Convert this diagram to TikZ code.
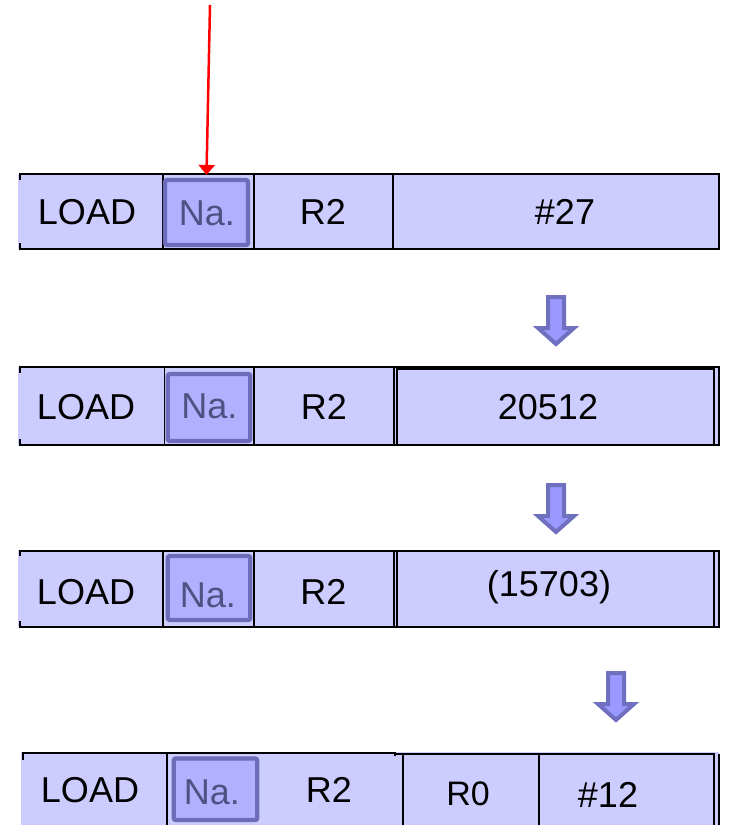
\documentclass[tikz,border=0pt]{standalone}
\usepackage{fontspec}
\setmainfont{Liberation Sans}
\usetikzlibrary{arrows.meta}
\definecolor{cellfill}{RGB}{204,204,255}
\definecolor{nafill}{RGB}{176,176,255}
\definecolor{naborder}{RGB}{108,108,186}
\definecolor{natext}{RGB}{80,80,130}
\definecolor{arrfill}{RGB}{153,153,255}
\definecolor{arrborder}{RGB}{112,112,192}
\newcommand\myblockarrow[2]{%
  \draw[blockarr] (#1-8,#2+2) -- (#1+8,#2+2) -- (#1+8,#2+33) -- (#1+18,#2+33)
    -- (#1,#2+49) -- (#1-18,#2+33) -- (#1-8,#2+33) -- cycle;}
\begin{document}
\begin{tikzpicture}[x=1pt,y=-1pt,
  frame/.style={black,line width=2pt},
  thinframe/.style={black,line width=1.2pt},
  txt/.style={inner sep=0pt,font=\fontsize{36}{40}\selectfont,text height=25.8pt,text depth=0pt},
  smalltxt/.style={inner sep=0pt,font=\fontsize{34}{38}\selectfont,text height=24.3pt,text depth=0pt},
  natxt/.style={txt,text=natext},
  nabox/.style={draw=naborder,fill=nafill,line width=4.2pt,rounded corners=2pt,inner sep=0pt},
  blockarr/.style={draw=arrborder,fill=arrfill,line width=4pt,line join=miter},
  redarr/.style={red,line width=2.5pt,-{Triangle[width=16pt,length=10pt]}}]
\useasboundingbox (0,0) rectangle (731,825);

% ---------- Row 1 ----------
\fill[cellfill] (18,174) rectangle (719,249);
\draw[frame] (20,180) -- (20,174) -- (719,174) -- (719,249) -- (20,249) -- (20,243);
\draw[frame] (162.5,174) -- (162.5,249);
\draw[frame] (253.5,174) -- (253.5,249);
\draw[frame] (393,174) -- (393,249);
\node[nabox,minimum width=83pt,minimum height=65pt] (na1) at (206.5,212.5) {};
\node[txt] (load1) at (87,212) {LOAD};
\node[natxt] (nat1) at (207,212.5) {Na.};
\node[txt] (r21) at (323,212) {R2};
\node[txt] (v1) at (565,212) {\#27};

% ---------- Row 2 ----------
\fill[cellfill] (18,367) rectangle (719,445);
\draw[frame] (20,373) -- (20,367) -- (719,367) -- (719,445) -- (20,445) -- (20,439);
\draw[thinframe] (164.5,367) -- (164.5,445);
\draw[frame] (254,367) -- (254,445);
\draw[thinframe] (394,367) -- (394,445);
\draw[frame] (397,368) -- (397,445);
\draw[frame] (397,368.5) -- (714,368.5);
\draw[frame] (714,367) -- (714,445);
\node[nabox,minimum width=82.5pt,minimum height=67pt] (na2) at (209,407.5) {};
\node[txt] (load2) at (86,407) {LOAD};
\node[natxt] (nat2) at (209.5,406) {Na.};
\node[txt] (r22) at (324,407) {R2};
\node[txt] (v2) at (548,407) {20512};

% ---------- Row 3 ----------
\fill[cellfill] (18,550) rectangle (719,627);
\draw[frame] (20,556) -- (20,550.5) -- (719,550.5) -- (719,627) -- (20,627) -- (20,621);
\draw[frame] (163,550) -- (163,627);
\draw[frame] (254,550) -- (254,627);
\draw[thinframe] (394,550) -- (394,627);
\draw[frame] (397,551) -- (397,627);
\draw[frame] (714,550) -- (714,627);
\node[nabox,minimum width=82.5pt,minimum height=64pt] (na3) at (209,588) {};
\node[txt] (load3) at (86,592) {LOAD};
\node[natxt] (nat3) at (208,594.5) {Na.};
\node[txt] (r23) at (323.5,592) {R2};
\node[txt] (v3) at (549,584) {(15703)};

% ---------- Row 4 ----------
\fill[cellfill] (21,752) rectangle (719,825);
\draw[frame] (23,760) -- (23,752.5) -- (395,752.5) -- (395,756);
\draw[thinframe] (167,752) -- (167,825);
\draw[frame] (396,753.5) -- (715,753.5);
\draw[frame] (403,754) -- (403,825);
\draw[frame] (538.5,754) -- (538.5,825);
\draw[frame] (714,754) -- (714,825);
\draw[thinframe] (719,754) -- (719,825);
\node[nabox,minimum width=83.5pt,minimum height=61.5pt] (na4) at (215.5,789.3) {};
\node[txt] (load4) at (90,790) {LOAD};
\node[natxt] (nat4) at (212,792) {Na.};
\node[txt] (r24) at (329,790) {R2};
\node[smalltxt] (r04) at (468,793.5) {R0};
\node[txt] (v4) at (608,795) {\#12};

% ---------- block arrows ----------
\myblockarrow{556}{295}
\myblockarrow{556}{483}
\myblockarrow{616}{671}

% ---------- red pointer ----------
\coordinate (redstart) at (210,5);
\draw[redarr] (redstart) -- ([yshift=3pt]na1.north);
\end{tikzpicture}
\end{document}
